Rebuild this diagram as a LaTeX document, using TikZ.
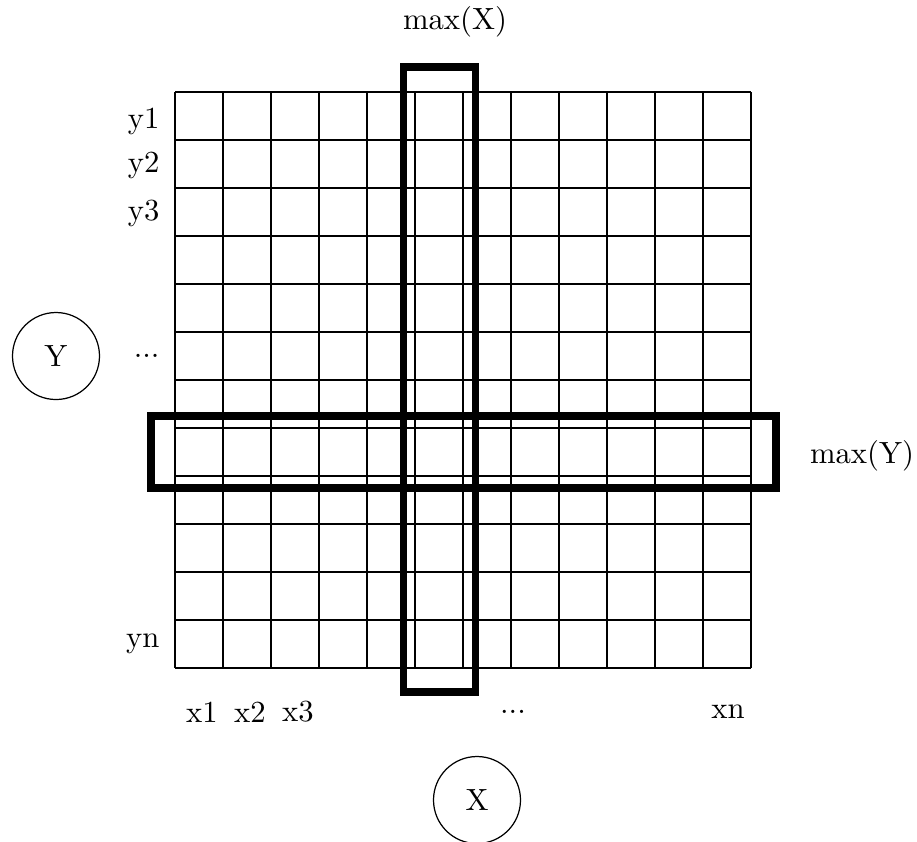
\documentclass[tikz,border=0pt]{standalone}
\begin{document}
\begin{tikzpicture}[x=0.326pt,y=-0.326pt,
  gridline/.style={line width=0.35pt},
  hilite/.style={line width=2.6pt},
  lbl/.style={inner sep=0pt, font=\normalsize},
  var/.style={circle, draw, line width=0.4pt, minimum size=87*0.326pt, inner sep=0pt}]
\useasboundingbox (0,0) rectangle (917,841);
% grid
\foreach \i in {0,...,12}{
  \draw[gridline] (175+48*\i,92) -- (175+48*\i,668);
  \draw[gridline] (175,92+48*\i) -- (751,92+48*\i);
}
% highlights
\draw[hilite] (403.5,67) rectangle (475.5,692);
\draw[hilite] (151,416) rectangle (776,488);
% labels
\node[lbl] (maxX) at (455,22) {max(X)};
\node[lbl] (maxY) at (862,456) {max(Y)};
\node[lbl, anchor=east] (y1) at (160,121) {y1};
\node[lbl, anchor=east] (y2) at (160,165) {y2};
\node[lbl, anchor=east] (y3) at (160,213) {y3};
\node[lbl, anchor=east] (ydots) at (160,356) {...};
\node[lbl, anchor=east] (yn) at (160,644) {yn};
\node[lbl] (x1) at (202,712) {x1};
\node[lbl] (x2) at (250,712) {x2};
\node[lbl] (x3) at (298,712) {x3};
\node[lbl] (xdots) at (513,712) {...};
\node[lbl] (xn) at (728,712) {xn};
% variables
\node[var] (Y) at (56,356) {Y};
\node[var] (X) at (477,800) {X};
\end{tikzpicture}
\end{document}
